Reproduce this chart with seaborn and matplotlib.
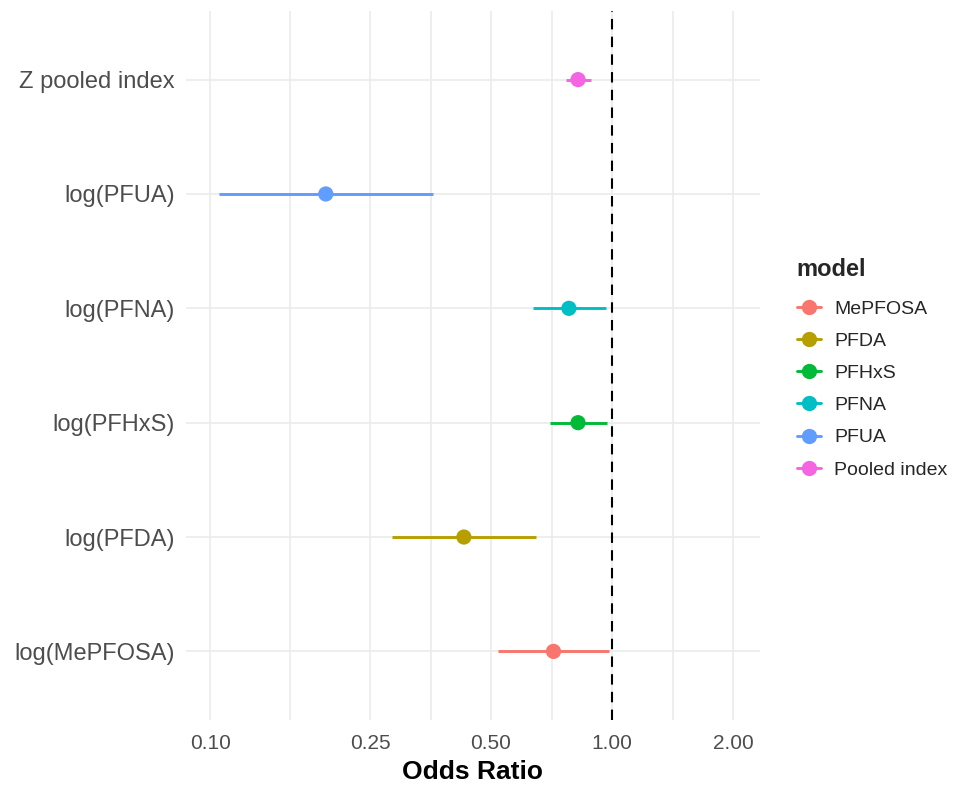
import numpy as np
import pandas as pd
import seaborn as sns
import matplotlib.pyplot as plt
from matplotlib.lines import Line2D
from matplotlib.ticker import FixedLocator, NullFormatter

# data (bottom row first)
row_labels = ["log(MePFOSA)", "log(PFDA)", "log(PFHxS)", "log(PFNA)", "log(PFUA)", "Z pooled index"]
models = ["MePFOSA", "PFDA", "PFHxS", "PFNA", "PFUA", "Pooled index"]
odds_ratio = [0.715, 0.428, 0.823, 0.781, 0.194, 0.823]
ci_lower = [0.520, 0.284, 0.700, 0.635, 0.105, 0.768]
ci_upper = [0.980, 0.647, 0.971, 0.966, 0.358, 0.886]

x_breaks = [0.10, 0.25, 0.50, 1.00, 2.00]
x_labels = ["0.10", "0.25", "0.50", "1.00", "2.00"]

# ggplot default hue palette
palette = ["#F8766D", "#B79F00", "#00BA38", "#00BFC4", "#619CFF", "#F564E3"]

df = pd.DataFrame({"row": row_labels, "model": models, "OR": odds_ratio,
                   "lower": ci_lower, "upper": ci_upper})
df["ypos"] = np.arange(len(df))

sns.set_theme(style="whitegrid")
plt.rcParams['font.family'] = ['Liberation Sans', 'DejaVu Sans']

fig = plt.figure(figsize=(9.57, 7.89), dpi=100)
ax = fig.add_axes([186 / 957, 1 - 720 / 789, (760 - 186) / 957, (720 - 11) / 789])

ax.set_xscale("log")
ax.set_xlim(0.0871, 2.334)
ax.set_ylim(-0.6, len(df) - 0.4)

# confidence intervals
ax.hlines(df["ypos"], df["lower"], df["upper"], colors=palette, linewidth=2.1, zorder=2)
sns.scatterplot(data=df, x="OR", y="ypos", hue="model", palette=palette, s=120,
                edgecolor="none", legend=False, ax=ax, zorder=3)
ax.axvline(1.0, color="black", linestyle=(0, (5, 3.5)), linewidth=1.5, zorder=4)

# ticks and grid
ax.xaxis.set_major_locator(FixedLocator(x_breaks))
ax.set_xticklabels(x_labels)
minors = [np.sqrt(a * b) for a, b in zip(x_breaks[:-1], x_breaks[1:])]
ax.xaxis.set_minor_locator(FixedLocator(minors))
ax.xaxis.set_minor_formatter(NullFormatter())
ax.set_yticks(df["ypos"])
ax.set_yticklabels(df["row"])

ax.grid(True, which="major", color="#EBEBEB", linewidth=1.2)
ax.grid(True, which="minor", axis="x", color="#EBEBEB", linewidth=1.2)
ax.set_axisbelow(True)
for sp in ax.spines.values():
    sp.set_visible(False)
ax.tick_params(axis="both", which="both", length=0)
ax.tick_params(axis="x", labelsize=15, labelcolor="#4D4D4D", pad=10)
ax.tick_params(axis="y", labelsize=17, labelcolor="#4D4D4D", pad=8)

ax.set_xlabel("Odds Ratio", fontsize=19, fontweight="bold", color="black", labelpad=5)
ax.set_ylabel("")

# legend with pointrange-style keys
handles = [Line2D([0], [0], color=c, linewidth=2.1, marker="o", markersize=11,
                  markeredgewidth=0) for c in palette]
leg = fig.legend(handles, models, title="model", loc="upper left",
                 bbox_to_anchor=(779 / 957, 1 - 240 / 789), frameon=False,
                 fontsize=14, title_fontproperties={"size": 17, "weight": "bold"},
                 handlelength=1.25, handletextpad=0.7, labelspacing=0.75,
                 alignment="left")
leg._legend_box.sep = 14

fig.savefig("out.png", dpi=100, facecolor="white")
